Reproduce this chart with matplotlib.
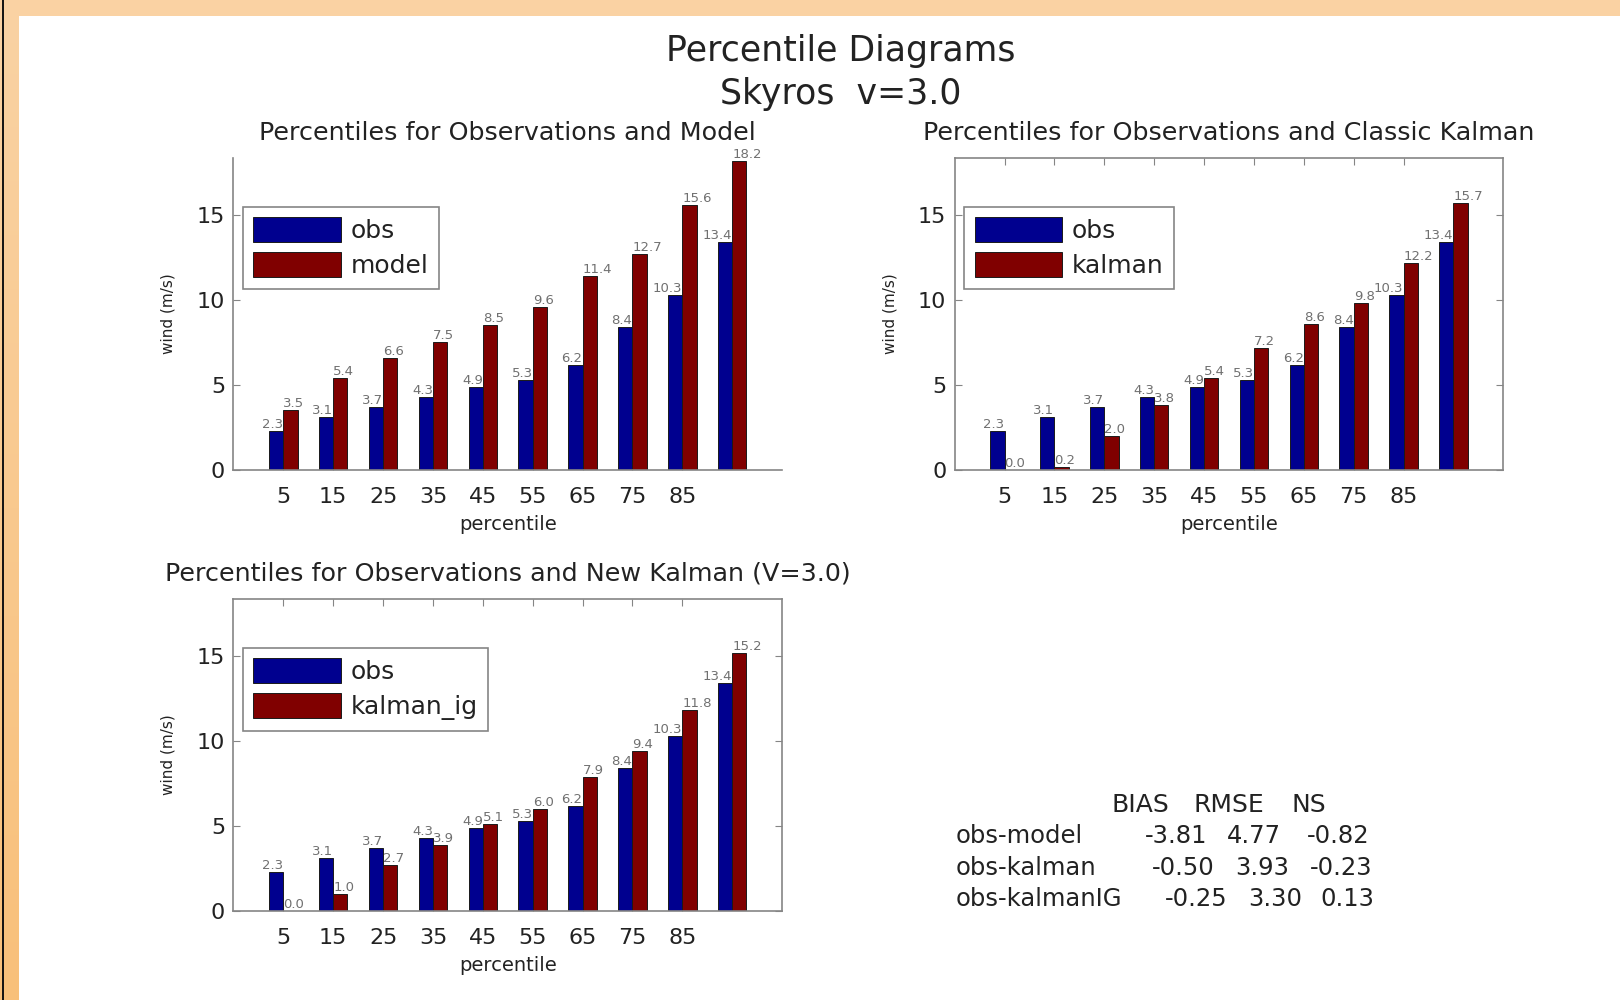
import numpy as np
import matplotlib
matplotlib.use("Agg")
import matplotlib.pyplot as plt
from matplotlib.patches import Rectangle
from matplotlib.lines import Line2D

# ---- data -------------------------------------------------------------
percentiles = [5, 15, 25, 35, 45, 55, 65, 75, 85, 95]
tick_labels = ["5", "15", "25", "35", "45", "55", "65", "75", "85"]

obs = [2.3, 3.1, 3.7, 4.3, 4.9, 5.3, 6.2, 8.4, 10.3, 13.4]
model = [3.5, 5.4, 6.6, 7.5, 8.5, 9.6, 11.4, 12.7, 15.6, 18.2]
kalman = [0.0, 0.2, 2.0, 3.8, 5.4, 7.2, 8.6, 9.8, 12.2, 15.7]
kalman_ig = [0.0, 1.0, 2.7, 3.9, 5.1, 6.0, 7.9, 9.4, 11.8, 15.2]

stat_names = ["obs-model", "obs-kalman", "obs-kalmanIG"]
stat_headers = ["BIAS", "RMSE", "NS"]
bias = [-3.81, -0.50, -0.25]
rmse = [4.77, 3.93, 3.30]
ns = [-0.82, -0.23, 0.13]

# ---- style ------------------------------------------------------------
plt.rcParams["font.family"] = ["DejaVu Sans"]
W, H = 1620, 1000
OBS_C = "#00008f"
RED_C = "#800000"
EDGE = "#1a1a1a"
AXIS_C = "#858585"
TEXT_C = "#222222"
VAL_C = "#707070"

fig = plt.figure(figsize=(W / 100, H / 100), dpi=100)
fig.patch.set_facecolor("white")

# peach frame along the top and left edges
fig.patches.append(Rectangle((0, 1 - 16 / H), 1, 16 / H, transform=fig.transFigure,
                             facecolor="#fad2a3", edgecolor="none", zorder=0))
strip = fig.add_axes([0, 0, 19 / W, 1 - 16 / H])
grad = np.linspace(0, 1, 256).reshape(-1, 1)
c_top = np.array([0xfa, 0xd2, 0xa3]) / 255
c_bot = np.array([0xf8, 0xc0, 0x7a]) / 255
strip.imshow(c_top + (c_bot - c_top) * grad[:, :, None], aspect="auto",
             extent=[0, 1, 0, 1], origin="upper")
strip.set_axis_off()
fig.add_artist(Line2D([2.5 / W, 2.5 / W], [0, 1], transform=fig.transFigure,
                      color="#111111", lw=1.4))


def px_rect(left, top, right, bottom):
    return [left / W, 1 - bottom / H, (right - left) / W, (bottom - top) / H]


def panel(rect, second, name, title, boxed, title_y):
    ax = fig.add_axes(rect)
    x = np.arange(1, len(obs) + 1)
    w = 0.286
    ax.bar(x - w / 2, obs, w, color=OBS_C, edgecolor=EDGE, lw=0.7, label="obs", zorder=2)
    ax.bar(x + w / 2, second, w, color=RED_C, edgecolor=EDGE, lw=0.7, label=name, zorder=2)
    for xi, v in zip(x, obs):
        ax.text(xi, v, f"{v:.1f}", ha="right", va="bottom", fontsize=9.5,
                color=VAL_C, zorder=3)
    for xi, v in zip(x, second):
        ax.text(xi, v, f"{v:.1f}", ha="left", va="bottom", fontsize=9.5,
                color=VAL_C, zorder=3)

    ax.set_xlim(0, 11)
    ax.set_ylim(0, 18.35)
    ax.set_xticks(x[:len(tick_labels)])
    ax.set_xticklabels(tick_labels)
    ax.set_yticks([0, 5, 10, 15])

    for s in ax.spines.values():
        s.set_color(AXIS_C)
        s.set_linewidth(1.2)
    if not boxed:
        ax.spines["top"].set_visible(False)
        ax.spines["right"].set_visible(False)
    ax.tick_params(direction="in", length=5, color=AXIS_C, labelcolor=TEXT_C,
                   labelsize=16, top=boxed, right=boxed)
    ax.tick_params(axis="x", pad=12.5)
    ax.tick_params(axis="y", pad=6)

    ax.set_xlabel("percentile", fontsize=14, color=TEXT_C)
    ax.xaxis.set_label_coords(0.5, -0.145)
    ax.set_ylabel("wind (m/s)", fontsize=11, color=TEXT_C)
    ax.yaxis.set_label_coords(-0.105, 0.5)

    ax.set_title(title, fontsize=18.3, color=TEXT_C, y=title_y, va="center", pad=0)

    leg = ax.legend(loc="upper left", bbox_to_anchor=(0.017, 0.843), borderaxespad=0,
                    fontsize=18, handlelength=3.5, handleheight=1.16,
                    labelspacing=0.36, handletextpad=0.4, borderpad=0.42,
                    fancybox=False, framealpha=1, edgecolor=AXIS_C)
    leg.get_frame().set_linewidth(1.2)
    for t in leg.get_texts():
        t.set_color(TEXT_C)
    return ax


panel(px_rect(233.5, 158, 782, 470), model, "model",
      "Percentiles for Observations and Model", False, (470 - 133) / 312)
panel(px_rect(954.7, 158, 1503.3, 470), kalman, "kalman",
      "Percentiles for Observations and Classic Kalman", True, (470 - 133) / 312)
panel(px_rect(233.5, 599, 782, 911), kalman_ig, "kalman_ig",
      "Percentiles for Observations and New Kalman (V=3.0)", True, (911 - 573) / 312)

# ---- figure titles ----------------------------------------------------
fig.text(841 / W, 1 - 51 / H, "Percentile Diagrams", ha="center", va="center",
         fontsize=25, color=TEXT_C)
fig.text(841 / W, 1 - 94 / H, "Skyros  v=3.0", ha="center", va="center",
         fontsize=25, color=TEXT_C)

# ---- error statistics table -------------------------------------------
header_x = [1111, 1194, 1291]
row_label_x = 956
row_value_x = [[1145, 1227, 1307], [1152, 1235, 1310], [1165, 1248, 1320]]
header_base = 812
row_base = [843, 875, 906]

for hx, h in zip(header_x, stat_headers):
    fig.text(hx / W, 1 - header_base / H, h, ha="left", va="baseline",
             fontsize=18, color=TEXT_C)
for i, name in enumerate(stat_names):
    yb = 1 - row_base[i] / H
    fig.text(row_label_x / W, yb, name, ha="left", va="baseline",
             fontsize=17.5, color=TEXT_C)
    for vx, v in zip(row_value_x[i], (bias[i], rmse[i], ns[i])):
        fig.text(vx / W, yb, f"{v:.2f}", ha="left", va="baseline",
                 fontsize=17.5, color=TEXT_C)

fig.savefig("out.png", dpi=100, facecolor=fig.get_facecolor())
